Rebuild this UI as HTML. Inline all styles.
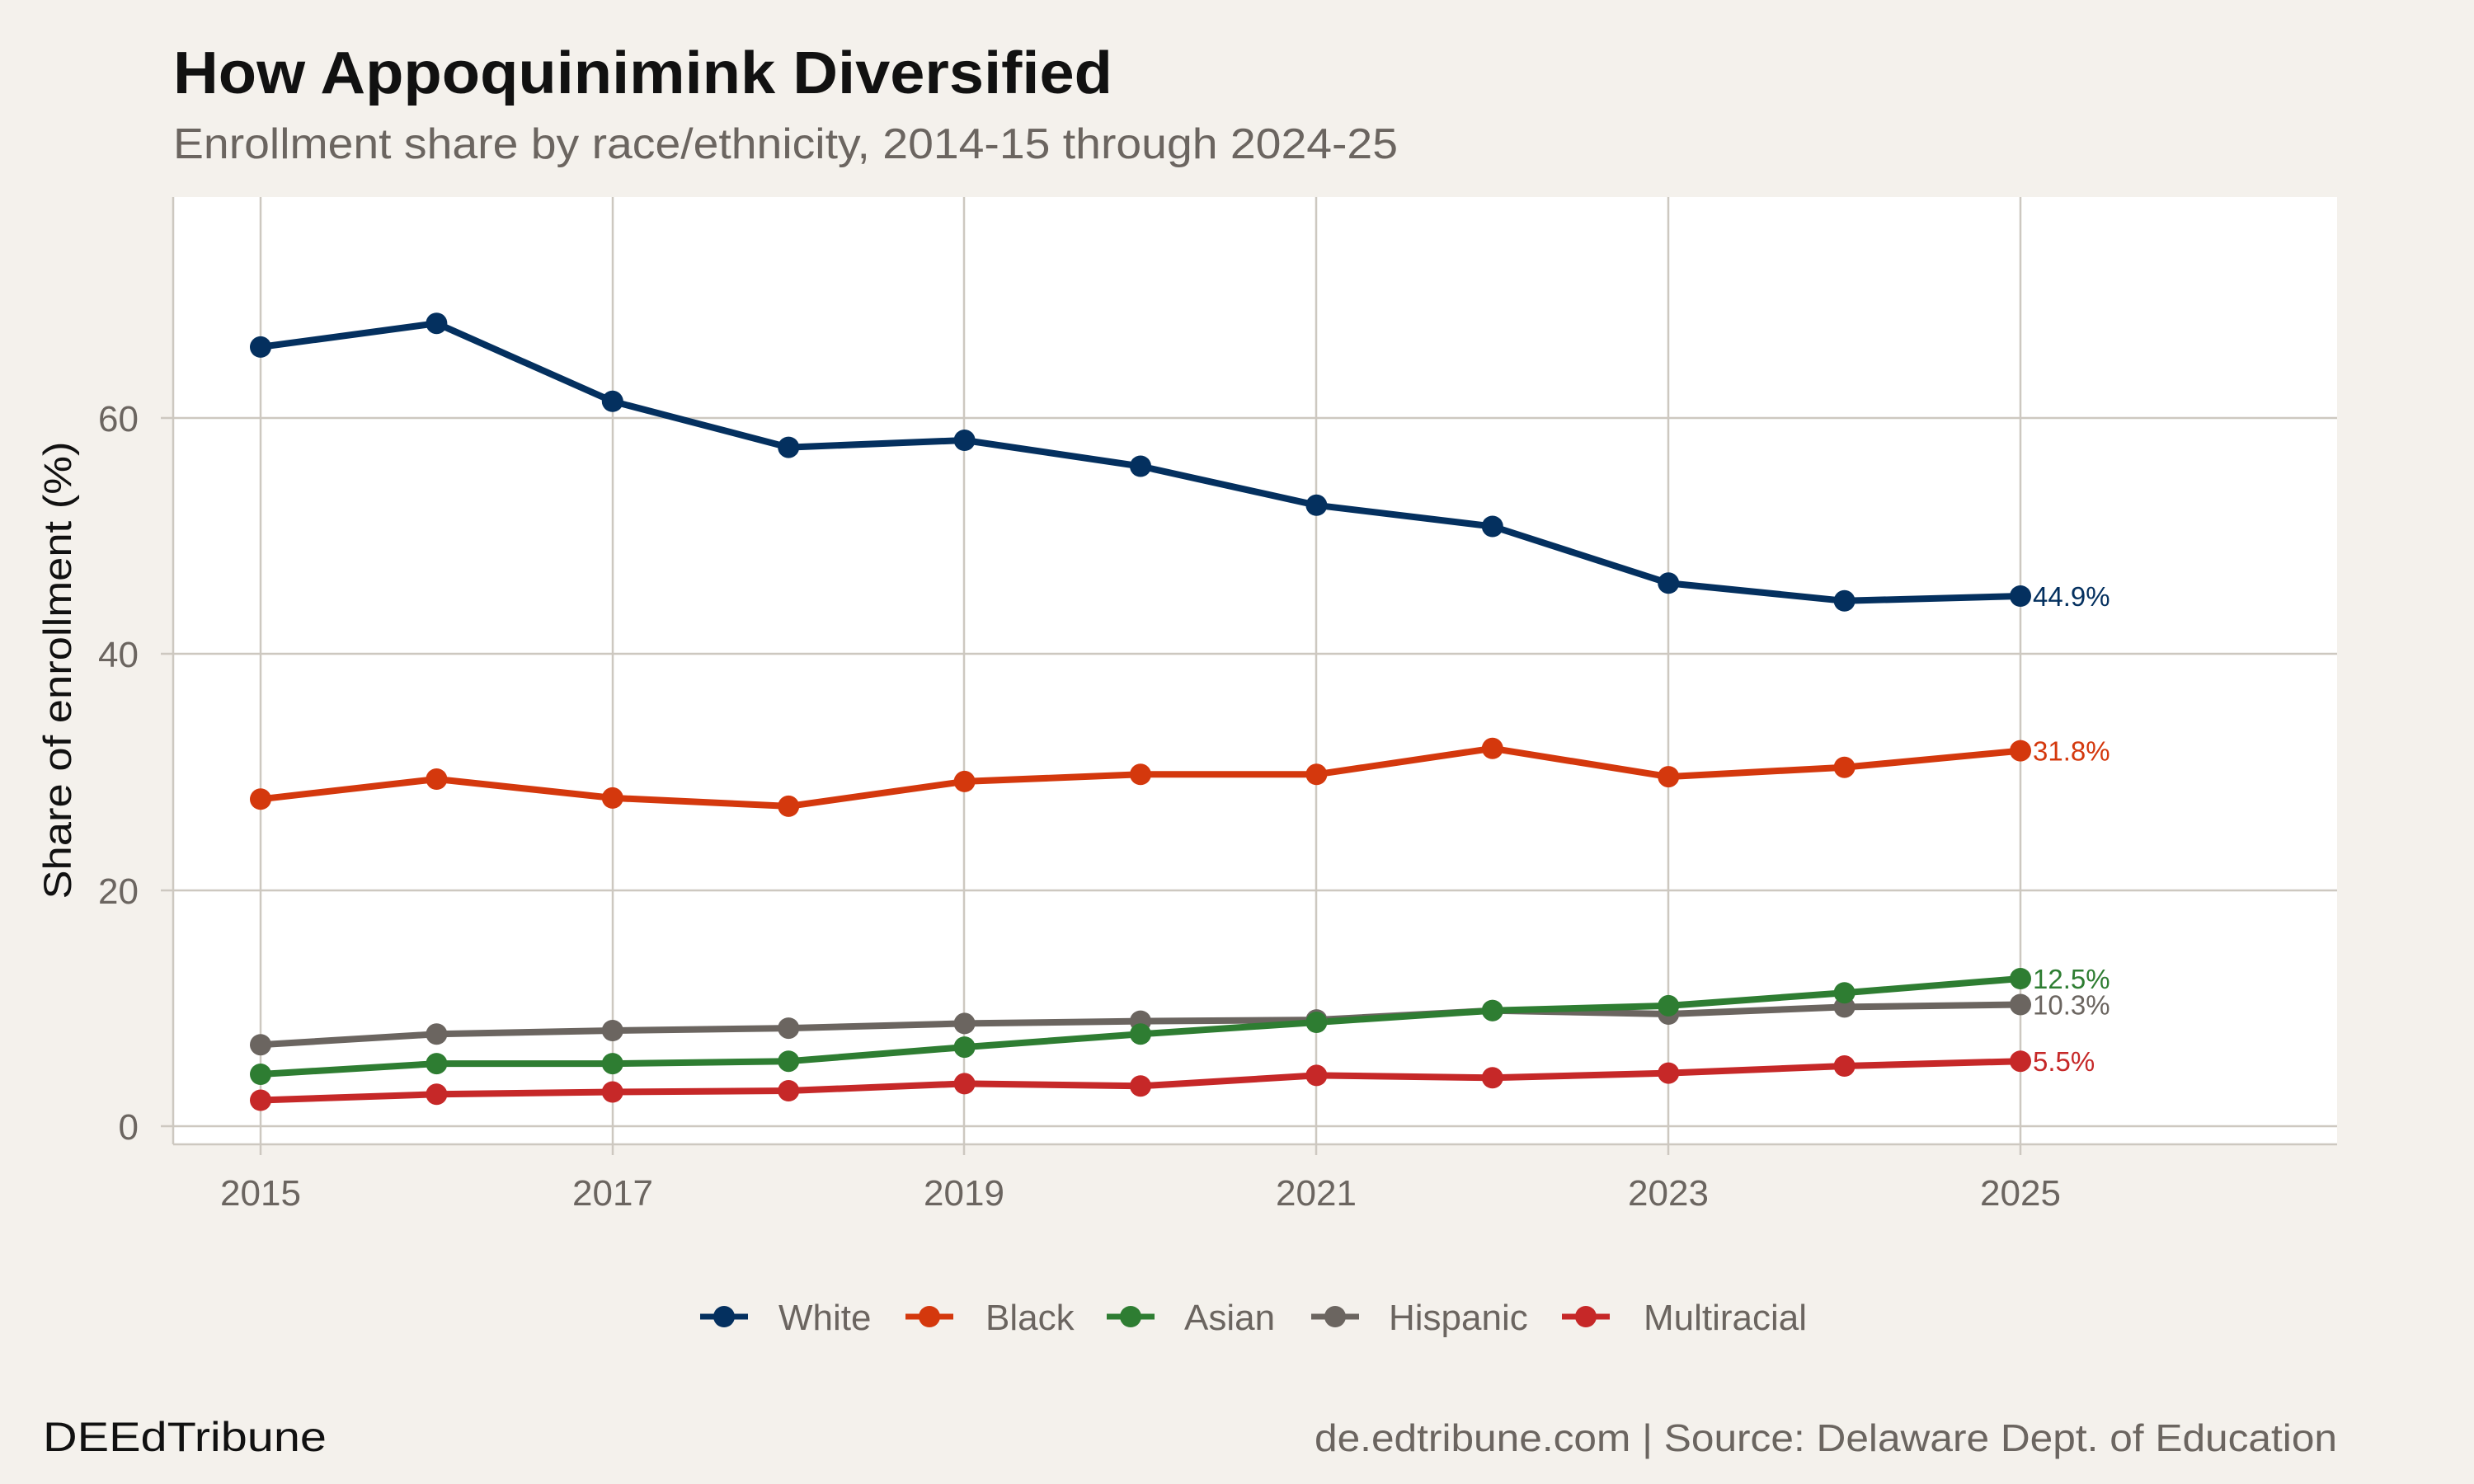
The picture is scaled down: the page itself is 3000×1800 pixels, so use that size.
<!DOCTYPE html>
<html><head><meta charset="utf-8"><style>
html,body{margin:0;padding:0;background:#f4f1ec;}
svg{display:block;font-family:"Liberation Sans",Arial,sans-serif;}
</style></head><body>
<svg width="3000" height="1800" viewBox="0 0 3000 1800" xmlns="http://www.w3.org/2000/svg">
<rect width="3000" height="1800" fill="#f4f1ec"/>
<text x="210" y="113" font-size="72" font-weight="bold" fill="#111" textLength="1139" lengthAdjust="spacingAndGlyphs">How Appoquinimink Diversified</text>
<text x="210" y="192" font-size="52" fill="#6b6560" textLength="1485" lengthAdjust="spacingAndGlyphs">Enrollment share by race/ethnicity, 2014-15 through 2024-25</text>
<rect x="210" y="239" width="2624" height="1149" fill="#ffffff"/>
<g stroke="#cdc8c0" stroke-width="2.5" fill="none">
<line x1="195" y1="1366" x2="2834" y2="1366"/>
<line x1="195" y1="1080" x2="2834" y2="1080"/>
<line x1="195" y1="793" x2="2834" y2="793"/>
<line x1="195" y1="507" x2="2834" y2="507"/>
<line x1="316" y1="239" x2="316" y2="1401"/>
<line x1="743" y1="239" x2="743" y2="1401"/>
<line x1="1169" y1="239" x2="1169" y2="1401"/>
<line x1="1596" y1="239" x2="1596" y2="1401"/>
<line x1="2023" y1="239" x2="2023" y2="1401"/>
<line x1="2450" y1="239" x2="2450" y2="1401"/>
<line x1="210" y1="239" x2="210" y2="1388"/>
<line x1="210" y1="1388" x2="2834" y2="1388"/>
</g>
<g font-size="44" fill="#6b6560" text-anchor="end">
<text x="168" y="1382">0</text><text x="168" y="1096">20</text><text x="168" y="809">40</text><text x="168" y="523">60</text>
</g>
<g font-size="44" fill="#6b6560" text-anchor="middle">
<text x="316" y="1462">2015</text><text x="743" y="1462">2017</text><text x="1169" y="1462">2019</text><text x="1596" y="1462">2021</text><text x="2023" y="1462">2023</text><text x="2450" y="1462">2025</text>
</g>
<text transform="translate(86,813) rotate(-90)" font-size="47" fill="#111" text-anchor="middle" textLength="555" lengthAdjust="spacingAndGlyphs">Share of enrollment (%)</text>

<g fill="none" stroke-width="8" stroke-linejoin="round">
<polyline stroke="#04305f" points="316,420.9 529.4,392.2 742.8,486.8 956.2,542.6 1169.6,534.0 1383,565.5 1596.4,612.8 1809.8,638.5 2023.2,707.3 2236.6,728.8 2450,723.0"/>
<polyline stroke="#d4380d" points="316,969.3 529.4,945.0 742.8,967.9 956.2,977.9 1169.6,947.9 1383,939.3 1596.4,939.3 1809.8,907.8 2023.2,942.1 2236.6,930.7 2450,910.6"/>
<polyline stroke="#6b6560" points="316,1267.2 529.4,1254.3 742.8,1250.0 956.2,1247.1 1169.6,1241.4 1383,1238.6 1596.4,1237.1 1809.8,1225.7 2023.2,1230.0 2236.6,1221.4 2450,1218.5"/>
<polyline stroke="#2e7d32" points="316,1303.0 529.4,1290.1 742.8,1290.1 956.2,1287.2 1169.6,1270.1 1383,1254.3 1596.4,1240.0 1809.8,1225.7 2023.2,1219.9 2236.6,1204.2 2450,1187.0"/>
<polyline stroke="#c62828" points="316,1334.5 529.4,1327.3 742.8,1324.5 956.2,1323.0 1169.6,1314.4 1383,1317.3 1596.4,1304.4 1809.8,1307.3 2023.2,1301.6 2236.6,1293.0 2450,1287.2"/>
</g>
<g fill="#04305f">
<circle cx="316" cy="420.9" r="13"/><circle cx="529.4" cy="392.2" r="13"/><circle cx="742.8" cy="486.8" r="13"/><circle cx="956.2" cy="542.6" r="13"/><circle cx="1169.6" cy="534.0" r="13"/><circle cx="1383" cy="565.5" r="13"/><circle cx="1596.4" cy="612.8" r="13"/><circle cx="1809.8" cy="638.5" r="13"/><circle cx="2023.2" cy="707.3" r="13"/><circle cx="2236.6" cy="728.8" r="13"/><circle cx="2450" cy="723.0" r="13"/>
</g>
<g fill="#d4380d">
<circle cx="316" cy="969.3" r="13"/><circle cx="529.4" cy="945.0" r="13"/><circle cx="742.8" cy="967.9" r="13"/><circle cx="956.2" cy="977.9" r="13"/><circle cx="1169.6" cy="947.9" r="13"/><circle cx="1383" cy="939.3" r="13"/><circle cx="1596.4" cy="939.3" r="13"/><circle cx="1809.8" cy="907.8" r="13"/><circle cx="2023.2" cy="942.1" r="13"/><circle cx="2236.6" cy="930.7" r="13"/><circle cx="2450" cy="910.6" r="13"/>
</g>
<g fill="#6b6560">
<circle cx="316" cy="1267.2" r="13"/><circle cx="529.4" cy="1254.3" r="13"/><circle cx="742.8" cy="1250.0" r="13"/><circle cx="956.2" cy="1247.1" r="13"/><circle cx="1169.6" cy="1241.4" r="13"/><circle cx="1383" cy="1238.6" r="13"/><circle cx="1596.4" cy="1237.1" r="13"/><circle cx="1809.8" cy="1225.7" r="13"/><circle cx="2023.2" cy="1230.0" r="13"/><circle cx="2236.6" cy="1221.4" r="13"/><circle cx="2450" cy="1218.5" r="13"/>
</g>
<g fill="#2e7d32">
<circle cx="316" cy="1303.0" r="13"/><circle cx="529.4" cy="1290.1" r="13"/><circle cx="742.8" cy="1290.1" r="13"/><circle cx="956.2" cy="1287.2" r="13"/><circle cx="1169.6" cy="1270.1" r="13"/><circle cx="1383" cy="1254.3" r="13"/><circle cx="1596.4" cy="1240.0" r="13"/><circle cx="1809.8" cy="1225.7" r="13"/><circle cx="2023.2" cy="1219.9" r="13"/><circle cx="2236.6" cy="1204.2" r="13"/><circle cx="2450" cy="1187.0" r="13"/>
</g>
<g fill="#c62828">
<circle cx="316" cy="1334.5" r="13"/><circle cx="529.4" cy="1327.3" r="13"/><circle cx="742.8" cy="1324.5" r="13"/><circle cx="956.2" cy="1323.0" r="13"/><circle cx="1169.6" cy="1314.4" r="13"/><circle cx="1383" cy="1317.3" r="13"/><circle cx="1596.4" cy="1304.4" r="13"/><circle cx="1809.8" cy="1307.3" r="13"/><circle cx="2023.2" cy="1301.6" r="13"/><circle cx="2236.6" cy="1293.0" r="13"/><circle cx="2450" cy="1287.2" r="13"/>
</g>
<g font-size="33">
<text x="2465" y="735" fill="#04305f">44.9%</text>
<text x="2465" y="922.6" fill="#d4380d">31.8%</text>
<text x="2465" y="1199" fill="#2e7d32">12.5%</text>
<text x="2465" y="1230.5" fill="#6b6560">10.3%</text>
<text x="2465" y="1299.2" fill="#c62828">5.5%</text>
</g>

<g stroke-width="7">
<line x1="849" y1="1597" x2="907" y2="1597" stroke="#04305f"/><circle cx="878" cy="1597" r="13" fill="#04305f"/>
<line x1="1098" y1="1597" x2="1156" y2="1597" stroke="#d4380d"/><circle cx="1127" cy="1597" r="13" fill="#d4380d"/>
<line x1="1342" y1="1597" x2="1400" y2="1597" stroke="#2e7d32"/><circle cx="1371" cy="1597" r="13" fill="#2e7d32"/>
<line x1="1590" y1="1597" x2="1648" y2="1597" stroke="#6b6560"/><circle cx="1619" cy="1597" r="13" fill="#6b6560"/>
<line x1="1894" y1="1597" x2="1952" y2="1597" stroke="#c62828"/><circle cx="1923" cy="1597" r="13" fill="#c62828"/>
</g>
<g font-size="44" fill="#6b6560">
<text x="944" y="1613">White</text><text x="1195" y="1613">Black</text><text x="1436" y="1613">Asian</text><text x="1684" y="1613">Hispanic</text><text x="1993" y="1613">Multiracial</text>
</g>
<text x="52" y="1760" font-size="50" fill="#111" textLength="344" lengthAdjust="spacingAndGlyphs">DEEdTribune</text>
<text x="1594" y="1760" font-size="46" fill="#6b6560" textLength="1240" lengthAdjust="spacingAndGlyphs">de.edtribune.com | Source: Delaware Dept. of Education</text>
</svg>
</body></html>
